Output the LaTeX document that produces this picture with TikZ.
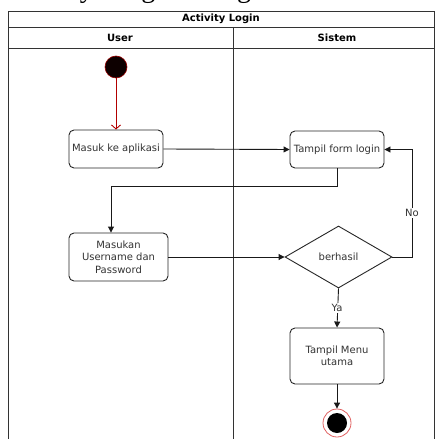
\documentclass[tikz,border=0pt]{standalone}
\usepackage{fontspec}
\setmainfont{DejaVu Sans}
\newfontfamily\captionserif{Liberation Serif}
\usetikzlibrary{arrows.meta,shapes.geometric}

\definecolor{framecol}{HTML}{333333}
\definecolor{textcol}{HTML}{333333}
\definecolor{initred}{HTML}{990000}
\definecolor{flowred}{HTML}{B20000}
\definecolor{endred}{HTML}{E06060}

\tikzset{
  lane/.style={draw=framecol, line width=0.9bp},
  actbox/.style={draw=black!85, line width=0.9bp, rounded corners=5bp, fill=white,
    font=\fontsize{10bp}{12.5bp}\selectfont, text=textcol, align=center, inner sep=0pt},
  decision/.style={diamond, draw=black!85, line width=0.9bp, fill=white, aspect=1.7,
    font=\fontsize{10bp}{12bp}\selectfont, text=textcol, inner sep=0pt},
  flow/.style={draw=black!90, line width=0.9bp, -{Triangle[length=6bp,width=6bp]}},
  startflow/.style={draw=flowred, line width=0.9bp, -{Straight Barb[length=4bp,width=9bp]}},
  guard/.style={font=\fontsize{10bp}{12bp}\selectfont, text=textcol, fill=white, inner sep=1bp},
  head/.style={font=\bfseries\fontsize{10bp}{12bp}\selectfont},
}

\begin{document}
\begin{tikzpicture}[x=1bp, y=-1bp]
  \useasboundingbox (0,0) rectangle (435,439);
  \begin{scope}
    \clip (0,0) rectangle (435,439);
    % figure caption above the swimlane frame
    \node[anchor=base west, inner sep=0pt, font=\captionserif\fontsize{28bp}{30bp}\selectfont]
      (caption) at (2,-2) {Activity Diagram Login};

    % swimlane frame
    \draw[lane] (8,445) -- (8,11) -- (434,11) -- (434,445);
    \draw[lane] (8,27) -- (434,27);
    \draw[lane] (8,48) -- (434,48);
    \draw[lane] (233,27) -- (233,445);
    \node[head] (title) at (221,19) {Activity Login};
    \node[head] (laneuser) at (120,38) {User};
    \node[head] (lanesys) at (337,38) {Sistem};

    % initial node
    \node[circle, draw=initred, fill=black!95!red, line width=0.6bp,
      minimum size=22bp, inner sep=0pt] (start) at (116,67) {};

    % activities
    \node[actbox, minimum width=94bp, minimum height=38bp] (masuk) at (116,149) {Masuk ke aplikasi};
    \node[actbox, minimum width=94bp, minimum height=37bp] (form) at (337,149.5) {Tampil form login};
    \node[actbox, minimum width=99bp, minimum height=48bp] (input) at (118.5,257)
      {Masukan\\Username dan\\Password};
    \node[decision, minimum width=107bp, minimum height=62bp] (cek) at (338.5,257) {berhasil};
    \node[actbox, minimum width=94bp, minimum height=56bp] (menu) at (337,356) {Tampil Menu\\utama};

    % final node
    \node[circle, draw=endred, fill=white, line width=0.8bp, minimum size=28bp, inner sep=0pt] (stop) at (337,423) {};
    \node[circle, fill=black, minimum size=20bp, inner sep=0pt] (stopcore) at (stop.center) {};

    % connectors
    \draw[startflow] (start) -- (masuk);
    \draw[flow] (masuk.east) -- (form.west);
    \coordinate (bendA) at (form.south |- 0,186);
    \coordinate (bendB) at (111,186);
    \draw[flow] (form.south) -- (bendA) -- (bendB) -- (bendB |- input.north);
    \draw[flow] (input.east) -- (cek.west);
    \coordinate (noA) at (412,257);
    \draw[flow] (cek.east) -- (noA) -- (noA |- form.east) -- (form.east);
    \node[guard] (nolbl) at (412,213) {No};
    \draw[flow] (cek.south) -- (menu.north);
    \node[guard] (yalbl) at (337,308) {Ya};
    \draw[flow] (menu.south) -- (stop.north);
  \end{scope}
\end{tikzpicture}
\end{document}
